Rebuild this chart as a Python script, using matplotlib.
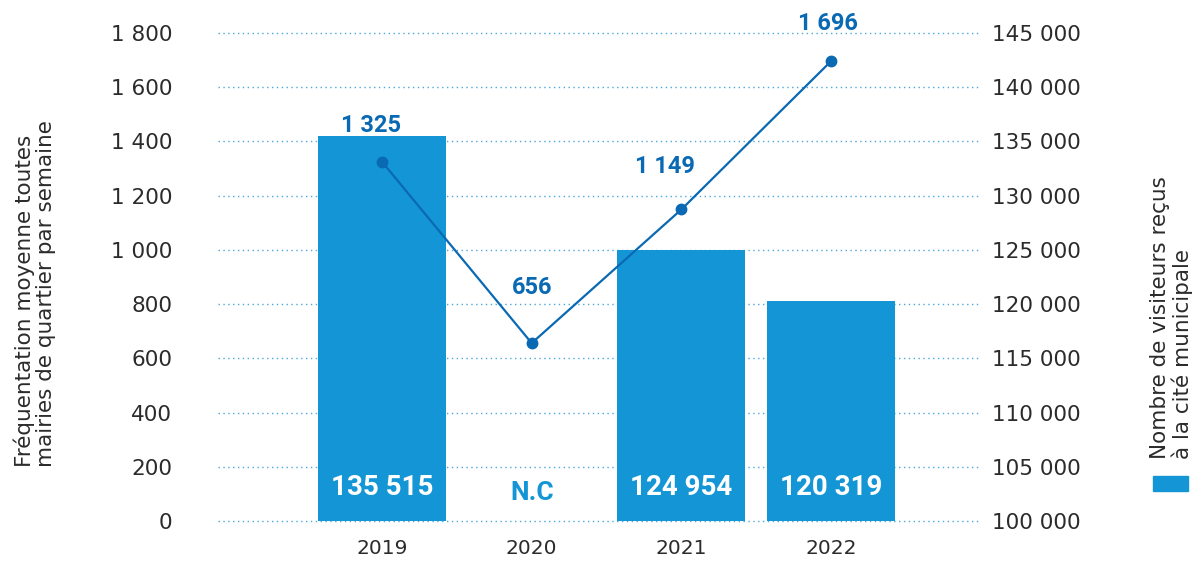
import matplotlib.pyplot as plt
from matplotlib.patches import Rectangle
from matplotlib.ticker import FuncFormatter

years = ['2019', '2020', '2021', '2022']
visiteurs = [135515, None, 124954, 120319]   # 2020 : non communiqué
frequentation = [1325, 656, 1149, 1696]

BAR = '#1496d6'
LINE = '#0a69b3'
TXT = '#2b2b2b'
GRID = '#4aa8dc'

plt.rcParams['font.family'] = ['DejaVu Sans']


def fr(v, pos=None):
    return f'{int(v):,}'.replace(',', ' ')


fig = plt.figure(figsize=(12.03, 5.61), dpi=100)
ax = fig.add_axes([0.1812, 0.0713, 0.6334, 0.8699])
ax2 = ax.twinx()

x = list(range(len(years)))

# barres : visiteurs (axe de droite)
ax.set_ylim(100000, 145000)
ax.set_xlim(-1.096, 3.995)
for xi, v in zip(x, visiteurs):
    if v is None:
        ax.annotate('N.C', (xi, 100000), xytext=(0, 20), textcoords='offset points',
                    ha='center', va='center', color=BAR, fontsize=19,
                    fontweight='bold', family='Roboto')
        continue
    ax.bar(xi, v, width=0.855, color=BAR, zorder=2)
    ax.annotate(fr(v), (xi, 100000), xytext=(0, 24), textcoords='offset points',
                ha='center', va='center', color='white', fontsize=20,
                fontweight='bold', family='Roboto')

ax.set_yticks(range(100000, 145001, 5000))
ax.yaxis.set_major_formatter(FuncFormatter(fr))
ax.yaxis.tick_right()
ax.grid(axis='y', color=GRID, linestyle=(0, (1, 2.5)), linewidth=1)
for gl in ax.get_ygridlines():
    gl.set_clip_on(False)
ax.set_axisbelow(True)
ax.set_xticks(x)
ax.set_xticklabels(years)
ax.tick_params(axis='x', length=0, pad=13, labelsize=14.5, labelcolor=TXT)
ax.tick_params(axis='y', length=0, pad=9, labelsize=15.5, labelcolor=TXT)

# courbe : fréquentation (axe de gauche)
ax2.set_ylim(0, 1800)
ax2.plot(x, frequentation, color=LINE, linewidth=1.6, marker='o', markersize=7.5, zorder=3)
offsets = [(-8, 26), (0, 40), (-12, 31), (-2, 27)]
for xi, v, off in zip(x, frequentation, offsets):
    ax2.annotate(fr(v), (xi, v), xytext=off, textcoords='offset points',
                 ha='center', va='center', color=LINE, fontsize=17,
                 fontweight='bold', family='Roboto')
ax2.set_yticks(range(0, 1801, 200))
ax2.yaxis.set_major_formatter(FuncFormatter(fr))
ax2.yaxis.tick_left()
ax2.tick_params(axis='y', length=0, pad=33, labelsize=15.5, labelcolor=TXT)

for a in (ax, ax2):
    for s in a.spines.values():
        s.set_visible(False)

fig.text(0.029, 1 - 467 / 561, 'Fréquentation moyenne toutes\nmairies de quartier par semaine',
         rotation=90, ha='center', va='bottom', multialignment='left',
         fontsize=15.5, color=TXT, linespacing=1.1)
fig.text(0.974, 1 - 459 / 561, 'Nombre de visiteurs reçus\nà la cité municipale',
         rotation=90, ha='center', va='bottom', multialignment='left',
         fontsize=15.5, color=TXT, linespacing=1.1)
fig.add_artist(Rectangle((1153 / 1203, 1 - 491 / 561), 35 / 1203, 15 / 561,
                         transform=fig.transFigure, color=BAR))

fig.savefig('out.png', dpi=100)
